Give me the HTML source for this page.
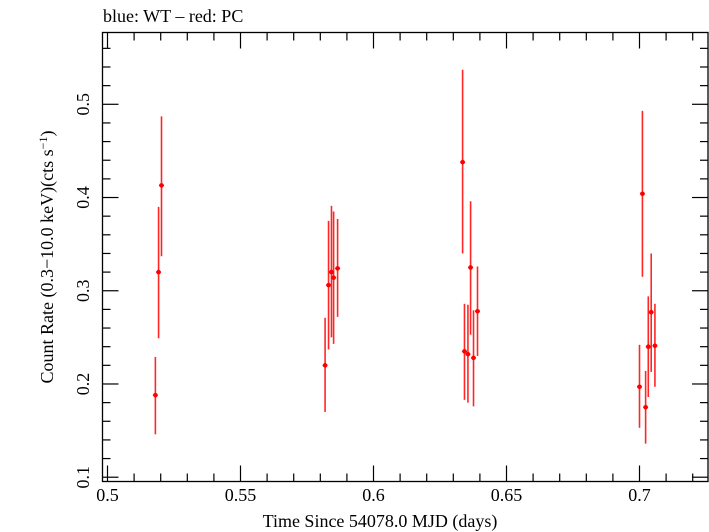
<!DOCTYPE html>
<html><head><meta charset="utf-8"><style>
html,body{margin:0;padding:0;background:#fff}
svg{display:block;font-family:"Liberation Serif",serif}
</style></head><body>
<svg id="chart" width="709" height="532" viewBox="0 0 709 532">
<text x="103" y="22" font-size="18" fill="#000">blue: WT – red: PC</text>
<rect x="102.5" y="32.5" width="605.5" height="449" fill="none" stroke="#000" stroke-width="1.3"/>
<g id="ticks"></g>
<g id="marks"></g>
<text x="380" y="527" font-size="18" text-anchor="middle">Time Since 54078.0 MJD (days)</text>
<text transform="translate(53,257) rotate(-90)" font-size="18" text-anchor="middle">Count Rate (0.3−10.0 keV)(cts s<tspan dy="-6" font-size="12">−1</tspan><tspan dy="6">)</tspan></text>
</svg>
<script>
const times=[0.5180,0.5192,0.5203,0.5818,0.5831,0.5842,0.5850,0.5865,0.6335,0.6342,0.6355,0.6365,0.6376,0.6391,0.7000,0.7011,0.7023,0.7033,0.7044,0.7058];
const rates=[0.188,0.320,0.413,0.220,0.306,0.320,0.314,0.324,0.438,0.235,0.232,0.325,0.228,0.278,0.197,0.404,0.175,0.240,0.277,0.241];
const rateHi=[0.229,0.390,0.487,0.271,0.375,0.391,0.385,0.377,0.537,0.286,0.285,0.396,0.279,0.326,0.242,0.493,0.214,0.294,0.340,0.286];
const rateLo=[0.146,0.249,0.337,0.170,0.237,0.250,0.243,0.272,0.340,0.183,0.180,0.253,0.176,0.230,0.153,0.315,0.136,0.186,0.213,0.197];
const xTickLabels=["0.5","0.55","0.6","0.65","0.7"];
const yTickLabels=["0.1","0.2","0.3","0.4","0.5"];
const X0=102.5,X1=708,Y0=481.5,Y1=32.5;
const xmin=0.49812,xmax=0.72575,ymin=0.0954,ymax=0.5770;
const xs=v=>X0+(v-xmin)/(xmax-xmin)*(X1-X0);
const ys=v=>Y0-(v-ymin)/(ymax-ymin)*(Y0-Y1);
const NS="http://www.w3.org/2000/svg";
function mk(tag,attrs,parent){const e=document.createElementNS(NS,tag);for(const k in attrs)e.setAttribute(k,attrs[k]);parent.appendChild(e);return e;}
const tg=document.getElementById('ticks');
for(let i=0;i<=23;i++){const v=0.5+i*0.01;if(v>xmax)break;const x=xs(v);const major=i%5===0;const L=major?16:8;
 const t1=mk('line',{x1:x,x2:x,y1:Y0,y2:Y0-L,stroke:'#000','stroke-width':1.2},tg);
 
 
 const t2=mk('line',{x1:x,x2:x,y1:Y1,y2:Y1+L,stroke:'#000','stroke-width':1.2},tg);
 
 }
xTickLabels.forEach(s=>{const t=mk('text',{x:xs(parseFloat(s)),y:501,'font-size':18,'text-anchor':'middle'},tg);t.textContent=s;
 
 });
for(let i=0;i<=24;i++){const v=0.1+i*0.02;if(v>ymax)break;const y=ys(v);const major=i%5===0;const L=major?16:8;
 const t1=mk('line',{x1:X0,x2:X0+L,y1:y,y2:y,stroke:'#000','stroke-width':1.2},tg);
 
 
 const t2=mk('line',{x1:X1,x2:X1-L,y1:y,y2:y,stroke:'#000','stroke-width':1.2},tg);
 
 }
yTickLabels.forEach(s=>{const y=ys(parseFloat(s));const t=mk('text',{transform:`translate(89,${y}) rotate(-90)`,'font-size':18,'text-anchor':'middle'},tg);t.textContent=s;
 
 });
const mg=document.getElementById('marks');
times.forEach((tv,i)=>{const x=xs(tv);
 const e=mk('line',{x1:x,x2:x,y1:ys(rateHi[i]),y2:ys(rateLo[i]),stroke:'#f00','stroke-width':1.6,'stroke-opacity':0.85},mg);
 
 
 const p=mk('circle',{cx:x,cy:ys(rates[i]),r:2.3,fill:'#f00'},mg);
 
 
 const h=mk('line',{x1:x-2.5,x2:x+2.5,y1:ys(rates[i]),y2:ys(rates[i]),stroke:'#f00','stroke-width':1.2},mg);
 
 });
</script>
</body></html>
